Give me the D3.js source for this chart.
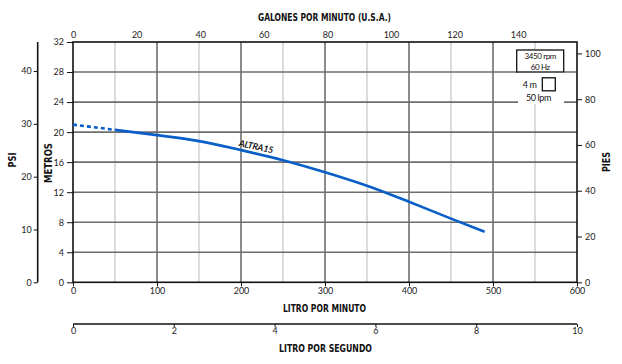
<!DOCTYPE html>
<html><head><meta charset="utf-8">
<script src="https://cdn.jsdelivr.net/npm/d3@7/dist/d3.min.js"></script>
<style>
body{margin:0;background:#fff;}
text{font-family:Lato,"Open Sans",sans-serif;}
.title{font-family:"Liberation Sans Narrow","DejaVu Sans Condensed","Liberation Sans",sans-serif;font-weight:bold;fill:#111;}
.tick text{font-family:Lato,sans-serif;font-size:9px;fill:#222;}
</style>
</head><body>
<svg id="c" width="622" height="364"></svg>
<script>
// ---- data ----
const lpmTicks = [0,100,200,300,400,500,600];
const lpmMinor = [50,150,250,350,450,550];
const metrosTicks = [0,4,8,12,16,20,24,28,32];
const gpmTicks = [0,20,40,60,80,100,120,140];
const psiTicks = [0,10,20,30,40];
const piesTicks = [0,20,40,60,80,100];
const lpsTicks = [0,2,4,6,8,10];
const curveLpm =    [0,   50,   100,  150,  200,  250,   300,   350,   400,   450,  490];
const curveMetros = [21.0,20.3, 19.6, 18.8, 17.6, 16.25, 14.65, 12.85, 10.72, 8.48, 6.72];
const seriesName = "ALTRA15";
const legendRpm = ["3450 rpm","60 Hz"];
const legendScale = ["4 m","50 lpm"];

const svg = d3.select("#c");
svg.append("rect").attr("width",622).attr("height",364).attr("fill","#fff");

const L=73,R=577,T=42,B=282.3;
const x = d3.scaleLinear().domain([0,600]).range([L,R]);
const y = d3.scaleLinear().domain([0,32]).range([B,T]);
const xg = d3.scaleLinear().domain([0,600/3.78541]).range([L,R]);
const yPsi = d3.scaleLinear().domain([0,32*1.42197]).range([B,T]);
const yFt = d3.scaleLinear().domain([0,32*3.28084]).range([B,T]);
const xLps = d3.scaleLinear().domain([0,10]).range([L,R]);

// grid
const g = svg.append("g");
g.selectAll(".minor").data(lpmMinor).join("line")
  .attr("x1",d=>x(d)).attr("x2",d=>x(d)).attr("y1",T).attr("y2",B)
  .attr("stroke","#d2d2d2").attr("stroke-width",1.6);
g.selectAll(".majorv").data(lpmTicks.slice(1,-1)).join("line")
  .attr("x1",d=>x(d)).attr("x2",d=>x(d)).attr("y1",T).attr("y2",B)
  .attr("stroke","#6e6e6e").attr("stroke-width",1.6);
g.selectAll(".majorh").data(metrosTicks.slice(1,-1)).join("line")
  .attr("x1",L).attr("x2",R).attr("y1",d=>y(d)).attr("y2",d=>y(d))
  .attr("stroke","#6e6e6e").attr("stroke-width",1.6);

// legend white area
svg.append("rect").attr("x",518).attr("y",72).attr("width",46).attr("height",32).attr("fill","#fff");
svg.append("rect").attr("x",516.7).attr("y",50).attr("width",47).attr("height",22)
  .attr("fill","#fff").attr("stroke","#111").attr("stroke-width",1.3);
function ltxt(t,xx,yy,anchor,fs){
  svg.append("text").attr("x",xx).attr("y",yy).attr("text-anchor",anchor).attr("font-size",fs)
    .attr("fill","#111").attr("letter-spacing",-0.4).text(t);
}
ltxt(legendRpm[0],540.3,59.3,"middle",8);
ltxt(legendRpm[1],540.3,69.5,"middle",8);
ltxt(legendScale[0],536.5,87.5,"end",9);
svg.append("rect").attr("x",542.3).attr("y",77.8).attr("width",13).attr("height",13).attr("fill","#fff").attr("stroke","#111").attr("stroke-width",1.3);
ltxt(legendScale[1],538.5,101,"middle",9);

// border
svg.append("rect").attr("x",L).attr("y",T).attr("width",R-L).attr("height",B-T)
  .attr("fill","none").attr("stroke","#111").attr("stroke-width",1.6);

// curve
const line = d3.line().x(d=>x(d[0])).y(d=>y(d[1])).curve(d3.curveMonotoneX);
const pts = curveLpm.map((v,i)=>[v,curveMetros[i]]);
svg.append("path").attr("d",line(pts.slice(0,2))).attr("fill","none")
  .attr("stroke","#0a5ec8").attr("stroke-width",2.6).attr("stroke-dasharray","4,3");
svg.append("path").attr("d",line(pts.slice(1))).attr("fill","none")
  .attr("stroke","#0a5ec8").attr("stroke-width",2.6);
svg.append("text").attr("transform",`translate(${x(197)},${y(18.15)}) rotate(12)`)
  .attr("font-size",9).attr("font-weight","bold").attr("font-style","italic").attr("fill","#111")
  .attr("font-family","'Open Sans',sans-serif").attr("letter-spacing",-0.2).text(seriesName);

// axes
function style(sel){sel.select(".domain").remove();sel.selectAll(".tick line").attr("stroke","#111").attr("stroke-width",1);}
svg.append("g").attr("transform",`translate(${L},0)`)
  .call(d3.axisLeft(y).tickValues(metrosTicks).tickSize(6).tickPadding(3)).call(style);
svg.append("g").attr("transform",`translate(${R},0)`)
  .call(d3.axisRight(yFt).tickValues(piesTicks).tickSize(5).tickPadding(3)).call(style);
svg.append("g").attr("transform",`translate(0,${B})`)
  .call(d3.axisBottom(x).tickValues(lpmTicks).tickSize(4).tickPadding(1)).call(style);
svg.append("g").attr("transform",`translate(0,${T})`)
  .call(d3.axisTop(xg).tickValues(gpmTicks).tickSize(0).tickPadding(4)).call(style);
const psiAx = svg.append("g").attr("transform","translate(37.7,0)")
  .call(d3.axisLeft(yPsi).tickValues(psiTicks).tickSize(4).tickPadding(2));
psiAx.select(".domain").attr("stroke","#111").attr("stroke-width",1.6).attr("d",`M0,${T}V${B}`);
psiAx.selectAll(".tick line").attr("stroke","#111");
const lpsAx = svg.append("g").attr("transform","translate(0,324)")
  .call(d3.axisBottom(xLps).tickValues(lpsTicks).tickSize(3).tickPadding(1));
lpsAx.select(".domain").attr("stroke","#111").attr("stroke-width",1.6).attr("d",`M${L},0H${R}`);
lpsAx.selectAll(".tick line").attr("stroke","#111");

// titles
function title(txt,xx,yy,len,rot){
  const t=svg.append("text").attr("class","title").attr("font-size",10.5).attr("text-anchor","middle")
   .attr("textLength",len).attr("lengthAdjust","spacingAndGlyphs").text(txt);
  if(rot) t.attr("transform",`translate(${xx},${yy}) rotate(${rot})`); else t.attr("x",xx).attr("y",yy);
}
title("GALONES POR MINUTO (U.S.A.)",324.5,21,133);
title("LITRO POR MINUTO",324.5,312,83);
title("LITRO POR SEGUNDO",325.5,352,93);
title("PSI",16,160,15,-90);
title("METROS",52,163,40,-90);
title("PIES",610,162,20,-90);
</script>
</body></html>
